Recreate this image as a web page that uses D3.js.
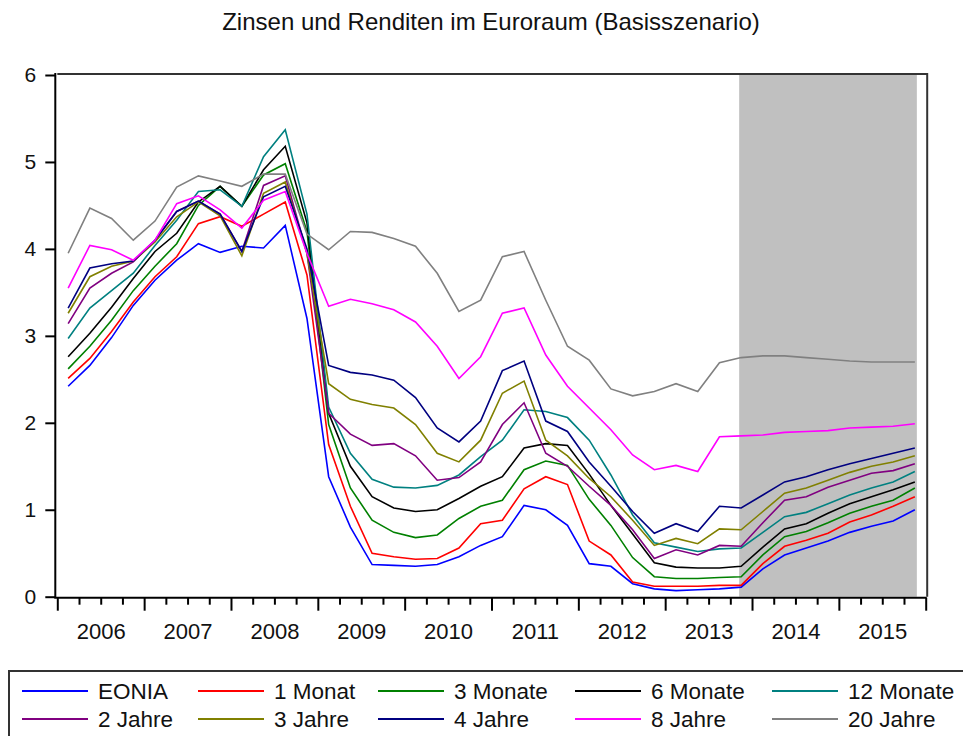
<!DOCTYPE html>
<html>
<head>
<meta charset="utf-8">
<script src="https://cdn.jsdelivr.net/npm/d3@7"></script>
<style>
  body { margin: 0; background: #fff; }
  svg { display: block; font-family: "Liberation Sans", Arial, sans-serif; }
</style>
</head>
<body>
<div id="chart"></div>
<script>
// quarterly data 2006Q1 - 2015Q4, shaded part is the projection
var quarters = [
  '2006Q1','2006Q2','2006Q3','2006Q4','2007Q1','2007Q2','2007Q3','2007Q4',
  '2008Q1','2008Q2','2008Q3','2008Q4','2009Q1','2009Q2','2009Q3','2009Q4',
  '2010Q1','2010Q2','2010Q3','2010Q4','2011Q1','2011Q2','2011Q3','2011Q4',
  '2012Q1','2012Q2','2012Q3','2012Q4','2013Q1','2013Q2','2013Q3','2013Q4',
  '2014Q1','2014Q2','2014Q3','2014Q4','2015Q1','2015Q2','2015Q3','2015Q4'];
var years = [2006, 2007, 2008, 2009, 2010, 2011, 2012, 2013, 2014, 2015];
var yTicks = [0, 1, 2, 3, 4, 5, 6];
var shadeFrom = '2013Q4', shadeTo = '2015Q4';

var eonia    = [2.42,2.66,2.98,3.35,3.64,3.87,4.06,3.96,4.03,4.01,4.27,3.20,1.38,0.80,0.37,0.36,0.35,0.37,0.46,0.59,0.69,1.05,1.00,0.82,0.38,0.35,0.15,0.09,0.07,0.08,0.09,0.11,0.32,0.48,0.56,0.64,0.74,0.81,0.87,1.00];
var monat1   = [2.51,2.74,3.05,3.39,3.68,3.91,4.29,4.37,4.26,4.40,4.54,3.70,1.75,1.04,0.50,0.46,0.43,0.44,0.56,0.84,0.88,1.24,1.38,1.29,0.64,0.48,0.17,0.12,0.12,0.12,0.13,0.13,0.38,0.58,0.65,0.73,0.86,0.94,1.04,1.15];
var monate3  = [2.62,2.88,3.18,3.52,3.80,4.06,4.50,4.72,4.49,4.85,4.98,4.20,1.98,1.25,0.88,0.74,0.68,0.71,0.90,1.04,1.11,1.46,1.56,1.51,1.12,0.82,0.45,0.23,0.21,0.21,0.22,0.23,0.48,0.69,0.75,0.85,0.96,1.04,1.11,1.25];
var monate6  = [2.76,3.03,3.33,3.66,3.97,4.18,4.54,4.72,4.49,4.91,5.18,4.30,2.11,1.50,1.15,1.02,0.98,1.00,1.13,1.27,1.38,1.71,1.76,1.74,1.41,1.05,0.72,0.39,0.34,0.33,0.33,0.35,0.57,0.78,0.84,0.96,1.07,1.15,1.23,1.32];
var monate12 = [2.97,3.32,3.52,3.72,4.04,4.33,4.66,4.68,4.49,5.06,5.37,4.40,2.18,1.65,1.35,1.26,1.25,1.28,1.40,1.61,1.80,2.15,2.13,2.06,1.80,1.40,0.94,0.62,0.57,0.52,0.55,0.56,0.74,0.92,0.97,1.07,1.17,1.25,1.32,1.44];
var jahre2   = [3.14,3.55,3.72,3.85,4.10,4.43,4.55,4.40,3.97,4.73,4.84,3.95,2.11,1.87,1.74,1.76,1.62,1.34,1.37,1.55,1.98,2.23,1.65,1.50,1.27,1.05,0.77,0.44,0.54,0.48,0.59,0.58,0.85,1.11,1.15,1.26,1.34,1.42,1.45,1.53];
var jahre3   = [3.26,3.68,3.80,3.86,4.08,4.37,4.54,4.38,3.92,4.64,4.77,3.95,2.45,2.27,2.21,2.17,1.98,1.65,1.55,1.80,2.34,2.48,1.80,1.62,1.36,1.15,0.88,0.59,0.67,0.61,0.78,0.77,0.98,1.19,1.25,1.34,1.43,1.50,1.55,1.62];
var jahre4   = [3.32,3.78,3.83,3.86,4.10,4.43,4.55,4.40,3.97,4.60,4.72,4.00,2.66,2.58,2.55,2.49,2.29,1.94,1.78,2.02,2.60,2.71,2.02,1.90,1.55,1.27,0.98,0.73,0.84,0.75,1.04,1.02,1.17,1.32,1.38,1.46,1.53,1.59,1.65,1.71];
var jahre8   = [3.55,4.04,3.99,3.87,4.10,4.52,4.61,4.45,4.24,4.56,4.66,3.95,3.34,3.42,3.37,3.30,3.16,2.88,2.51,2.76,3.26,3.32,2.78,2.42,2.17,1.92,1.63,1.46,1.51,1.44,1.84,1.85,1.86,1.89,1.90,1.91,1.94,1.95,1.96,1.99];
var jahre20  = [3.95,4.47,4.35,4.10,4.32,4.71,4.84,4.78,4.72,4.86,4.86,4.17,3.99,4.20,4.19,4.12,4.03,3.72,3.28,3.41,3.91,3.97,3.41,2.88,2.72,2.39,2.31,2.36,2.45,2.36,2.69,2.75,2.77,2.77,2.75,2.73,2.71,2.70,2.70,2.70];

var seriesNames = ['EONIA','1 Monat','3 Monate','6 Monate','12 Monate','2 Jahre','3 Jahre','4 Jahre','8 Jahre','20 Jahre'];
var seriesColors = ['#0000ff','#ff0000','#008000','#000000','#008080','#800080','#808000','#000080','#ff00ff','#808080'];
var seriesValues = [eonia, monat1, monate3, monate6, monate12, jahre2, jahre3, jahre4, jahre8, jahre20];

var W = 963, H = 736;
var svg = d3.select('#chart').append('svg')
    .attr('width', W)
    .attr('height', H);

// quarter -> decimal year (middle of the quarter)
function qTime(q) {
    return +q.slice(0, 4) + (+q.slice(5) - 0.5) / 4;
}

var x = d3.scaleLinear().domain([2006, 2016]).range([57.3, 925.7]);
var y = d3.scaleLinear().domain([0, 6]).range([596.7, 75]);

// title
svg.append('text')
    .attr('x', 491)
    .attr('y', 30)
    .attr('text-anchor', 'middle')
    .attr('font-size', '24px')
    .attr('fill', '#111')
    .text('Zinsen und Renditen im Euroraum (Basisszenario)');

// projection shading
svg.append('rect')
    .attr('x', x(qTime(shadeFrom)) - 2)
    .attr('y', y(6))
    .attr('width', x(qTime(shadeTo)) - x(qTime(shadeFrom)) + 4)
    .attr('height', y(0) - y(6))
    .attr('fill', '#c0c0c0');

// frame top / right
svg.append('path')
    .attr('d', 'M' + x.range()[0] + ',' + (y(6) - 1) + 'H' + (x(2016) + 1.5) + 'V' + y(0))
    .attr('fill', 'none')
    .attr('stroke', '#333')
    .attr('stroke-width', 2);

// lines
var line = d3.line()
    .x(function(d, i) { return x(qTime(quarters[i])); })
    .y(function(d) { return y(d); });

seriesValues.forEach(function(vals, k) {
    svg.append('path')
        .datum(vals)
        .attr('fill', 'none')
        .attr('stroke', seriesColors[k])
        .attr('stroke-width', 1.6)
        .attr('stroke-linejoin', 'miter')
        .attr('d', line);
});

// y axis
var yAxis = svg.append('g')
    .attr('transform', 'translate(' + (x.range()[0] - 2) + ',0)')
    .call(d3.axisLeft(y).tickValues(yTicks).tickFormat(d3.format('d'))
        .tickSize(10).tickPadding(9).tickSizeOuter(0));
yAxis.select('.domain').attr('stroke', '#000').attr('stroke-width', 2)
    .attr('d', 'M0,' + (y(6) - 2) + 'V' + (y(0) + 1));
yAxis.selectAll('.tick line').attr('stroke', '#000').attr('stroke-width', 2);
yAxis.selectAll('.tick text')
    .attr('font-size', '21px')
    .attr('fill', '#111')
    .attr('font-family', '"Liberation Sans", Arial, sans-serif');

// x axis: quarter ticks, year ticks, year labels
var quarterTicks = [];
years.forEach(function(yr) { quarterTicks.push(yr + 0.25, yr + 0.5, yr + 0.75); });
var yearTicks = years.concat([2016]);

var xg = svg.append('g').attr('transform', 'translate(0,' + (y(0) + 1) + ')');
xg.append('g')
    .call(d3.axisBottom(x).tickValues(quarterTicks).tickSize(7).tickFormat('').tickSizeOuter(0))
    .call(function(g) { g.select('.domain').remove(); });
xg.append('g')
    .call(d3.axisBottom(x).tickValues(yearTicks).tickSize(13).tickFormat('').tickSizeOuter(0));
xg.selectAll('.domain').attr('stroke', '#000').attr('stroke-width', 2)
    .attr('d', 'M' + (x.range()[0] - 3) + ',0H' + (x(2016) + 1));
xg.selectAll('.tick line').attr('stroke', '#000').attr('stroke-width', 2);

var lab = xg.append('g')
    .call(d3.axisBottom(x).tickValues(years.map(function(d) { return d + 0.5; }))
        .tickSize(0).tickPadding(26).tickFormat(function(d) { return Math.floor(d); }));
lab.select('.domain').remove();
lab.selectAll('text')
    .attr('font-size', '22px')
    .attr('fill', '#111')
    .attr('font-family', '"Liberation Sans", Arial, sans-serif');

// legend
var legend = svg.append('g');
legend.append('rect')
    .attr('x', 9)
    .attr('y', 671)
    .attr('width', 1000)
    .attr('height', 100)
    .attr('fill', '#fff')
    .attr('stroke', '#333')
    .attr('stroke-width', 2);

var colX = [22, 198, 378, 575, 772];
var rowY = [691, 719];
seriesNames.forEach(function(name, k) {
    var cx = colX[k % 5], cy = rowY[Math.floor(k / 5)];
    legend.append('line')
        .attr('x1', cx).attr('x2', cx + 66)
        .attr('y1', cy).attr('y2', cy)
        .attr('stroke', seriesColors[k])
        .attr('stroke-width', 2);
    legend.append('text')
        .attr('x', cx + 76)
        .attr('y', cy + 8)
        .attr('font-size', '22.5px')
        .attr('fill', '#111')
        .text(name);
});
</script>
</body>
</html>
